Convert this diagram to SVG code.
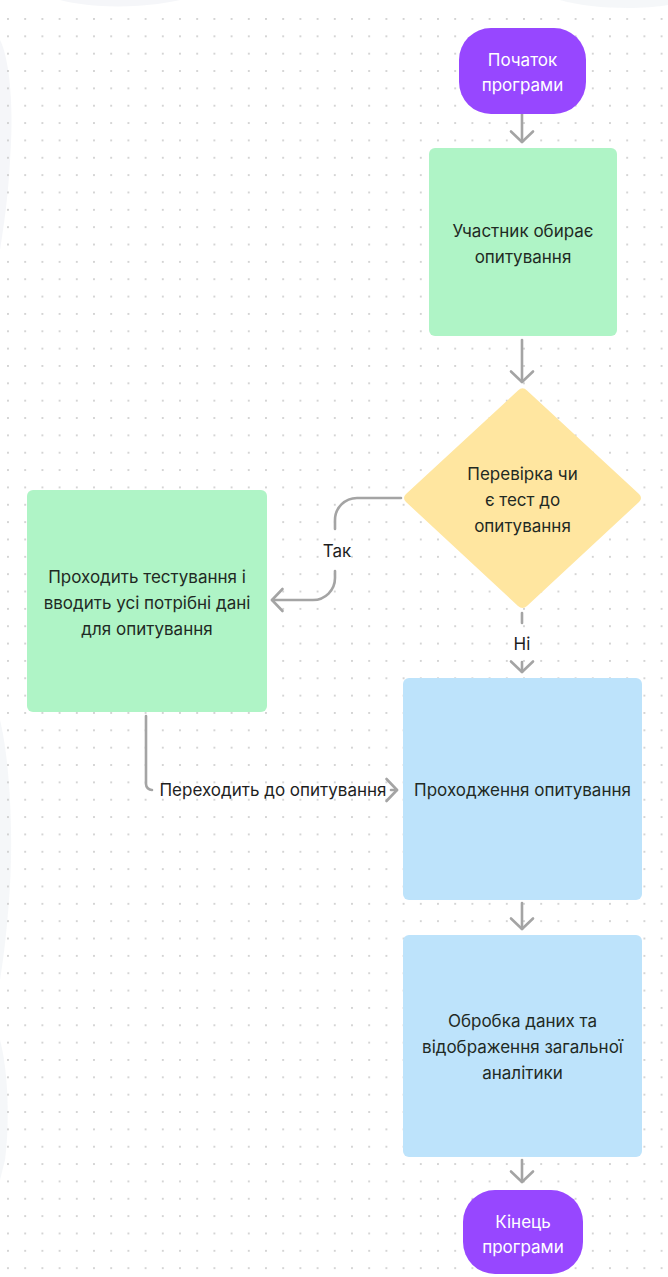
<svg xmlns="http://www.w3.org/2000/svg" width="668" height="1277" viewBox="0 0 668 1277">
  <defs>
    <pattern id="dots" patternUnits="userSpaceOnUse" x="-0.6" y="10.3" width="17.2" height="17.35">
      <circle cx="8.6" cy="8.675" r="1" fill="#c9c9c9"/>
    </pattern>
    <marker id="chev" markerUnits="userSpaceOnUse" viewBox="0 0 14 26" markerWidth="14" markerHeight="26" refX="12" refY="13" orient="auto" overflow="visible">
      <path d="M1.5 2 L12 13 L1.5 24" fill="none" stroke="#a4a4a4" stroke-width="2.6" stroke-linecap="round" stroke-linejoin="round"/>
    </marker>
    <style>
      .lbl { font-family: Inter, "Noto Sans", "Liberation Sans", sans-serif; font-size: 17px; text-anchor: middle; dominant-baseline: central; }
      .term { fill: #9747ff; }
      .term-t { fill: #ffffff; }
      .green { fill: #aff4c6; }
      .blue { fill: #bde3fb; }
      .yellow { fill: #ffe6a0; }
      .dark { fill: #1f2a24; }
      .edge { fill: none; stroke: #a4a4a4; stroke-width: 2.6; stroke-linecap: round; stroke-linejoin: round; }
      .elbl { fill: #1e1e1e; }
      .wm { fill: #f1f3f7; }
    </style>
  </defs>

  <!-- canvas -->
  <rect width="668" height="1277" fill="#ffffff"/>
  <!-- faint backdrop shapes along the edges -->
  <g opacity="0.7">
    <path class="wm" d="M0 40 C10 60 14 110 10 160 C8 200 3 230 0 250 Z"/>
    <path class="wm" d="M0 720 C10 760 14 840 9 900 C6 940 3 960 0 980 Z"/>
    <path class="wm" d="M0 1040 C8 1070 10 1120 5 1160 L0 1180 Z"/>
    <path class="wm" d="M60 0 C90 8 140 9 180 0 Z"/>
    <path class="wm" d="M560 0 C590 9 640 10 668 5 L668 0 Z"/>
  </g>
  <rect x="0" y="12" width="668" height="1265" fill="url(#dots)"/>

  <!-- connectors -->
  <g id="connectors">
    <path class="edge" d="M522 114 V142" marker-end="url(#chev)"/>
    <path class="edge" d="M522 340 V382" marker-end="url(#chev)"/>
    <!-- Так branch -->
    <path class="edge" d="M401 498 H357 A22 22 0 0 0 335 520 V529"/>
    <path class="edge" d="M335 571 V578 A22 22 0 0 1 313 600 H272" marker-end="url(#chev)"/>
    <text class="lbl elbl" x="337" y="551">Так</text>
    <!-- Ні branch -->
    <path class="edge" d="M522 613 V623"/>
    <text class="lbl elbl" x="522" y="644">Ні</text>
    <path class="edge" d="M522 662 V672" marker-end="url(#chev)"/>
    <!-- return to the survey -->
    <path class="edge" d="M146 716 V784 A6 6 0 0 0 152 790"/>
    <text class="lbl elbl" x="273" y="790">Переходить до опитування</text>
    <path class="edge" d="M391 790 H397" marker-end="url(#chev)"/>
    <path class="edge" d="M522 903 V929" marker-end="url(#chev)"/>
    <path class="edge" d="M522 1160 V1182" marker-end="url(#chev)"/>
  </g>

  <g id="start">
    <rect class="term" x="459" y="28" width="127" height="86" rx="32"/>
    <text class="lbl term-t" x="522.5" y="60">Початок</text>
    <text class="lbl term-t" x="522.5" y="85">програми</text>
  </g>

  <g id="choose">
    <rect class="green" x="429" y="148" width="188" height="188" rx="6"/>
    <text class="lbl dark" x="523" y="231">Участник обирає</text>
    <text class="lbl dark" x="523" y="257">опитування</text>
  </g>

  <g id="check">
    <path class="yellow" d="M518 390.5 Q522.5 386 527 390.5 L639 494 Q643 498 639 502 L527 606 Q522.5 610 518 606 L406 502 Q402 498 406 494 Z"/>
    <text class="lbl dark" x="522.5" y="474">Перевірка чи</text>
    <text class="lbl dark" x="522.5" y="500">є тест до</text>
    <text class="lbl dark" x="522.5" y="525.5">опитування</text>
  </g>

  <g id="testing">
    <rect class="green" x="27" y="490" width="240" height="222" rx="6"/>
    <text class="lbl dark" x="147" y="577">Проходить тестування і</text>
    <text class="lbl dark" x="147" y="603">вводить усі потрібні дані</text>
    <text class="lbl dark" x="147" y="629">для опитування</text>
  </g>

  <g id="survey">
    <rect class="blue" x="403" y="678" width="239" height="222" rx="6"/>
    <text class="lbl dark" x="522.5" y="790">Проходження опитування</text>
  </g>

  <g id="analytics">
    <rect class="blue" x="403" y="935" width="239" height="222" rx="6"/>
    <text class="lbl dark" x="522.5" y="1021">Обробка даних та</text>
    <text class="lbl dark" x="522.5" y="1047">відображення загальної</text>
    <text class="lbl dark" x="522.5" y="1073">аналітики</text>
  </g>

  <g id="end">
    <rect class="term" x="463" y="1190" width="120" height="84" rx="32"/>
    <text class="lbl term-t" x="523" y="1222">Кінець</text>
    <text class="lbl term-t" x="523" y="1247">програми</text>
  </g>
</svg>
